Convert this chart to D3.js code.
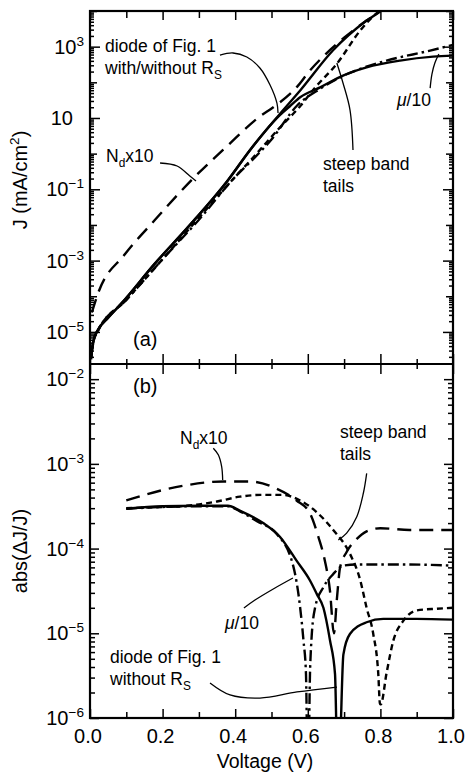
<!DOCTYPE html>
<html>
<head>
<meta charset="utf-8">
<script src="https://cdn.jsdelivr.net/npm/d3@7/dist/d3.min.js"></script>
<style>
  body { margin: 0; background: #fff; }
  text { font-family: "Liberation Sans", Arial, Helvetica, sans-serif; fill: #000; }
</style>
</head>
<body>
<div id="cont"></div>
<script>
// ---- data ----
// (a) J (mA/cm2) vs voltage (V)
var noRsV = [0.003, 0.006, 0.012, 0.022, 0.05, 0.086, 0.178, 0.27, 0.38, 0.44, 0.523, 0.579, 0.669, 0.762, 0.80, 0.83];
var noRsJ = [2.0e-6, 3.6e-6, 7.0e-6, 1.15e-5, 2.5e-5, 6.2e-5, 8.1e-4, 8.7e-3, 0.18, 1.23, 13, 59, 780, 5400, 1.0e4, 2.0e4];
var withRsV = [0.003, 0.006, 0.012, 0.022, 0.05, 0.086, 0.178, 0.27, 0.38, 0.44, 0.48, 0.523, 0.55, 0.579, 0.634, 0.697, 0.762, 0.854, 0.945, 1.0];
var withRsJ = [2.0e-6, 3.6e-6, 7.0e-6, 1.15e-5, 2.5e-5, 6.2e-5, 8.1e-4, 8.7e-3, 0.18, 1.23, 4.0, 12, 21, 38, 72, 155, 263, 407, 525, 562];
var ndV = [0.005, 0.022, 0.096, 0.178, 0.279, 0.377, 0.468, 0.505, 0.569, 0.606, 0.65, 0.7, 0.762, 0.80, 0.83];
var ndJ = [3.5e-5, 1.2e-4, 1.5e-3, 0.0135, 0.178, 1.6, 11, 20, 72, 214, 630, 1780, 5400, 1.0e4, 2.0e4];
var steepV = [0.003, 0.01, 0.022, 0.1, 0.2, 0.3, 0.4, 0.45, 0.523, 0.58, 0.62, 0.68, 0.744, 0.78, 0.81];
var steepJ = [1.7e-6, 5.5e-6, 1.05e-5, 7.9e-5, 1.1e-3, 0.0158, 0.224, 0.79, 5.4, 22, 71, 330, 2800, 7100, 1.26e4];
var muV = [0.003, 0.01, 0.022, 0.1, 0.2, 0.3, 0.4, 0.45, 0.5, 0.57, 0.634, 0.689, 0.75, 0.817, 0.937, 1.0];
var muJ = [1.9e-6, 6.0e-6, 1.1e-5, 7.9e-5, 1.1e-3, 0.014, 0.224, 0.71, 2.5, 22, 66, 138, 251, 407, 776, 1120];

// (b) abs(dJ/J) vs voltage (V)
var diodeBV = [0.1, 0.2, 0.3, 0.38, 0.413, 0.477, 0.523, 0.569, 0.606, 0.625, 0.643, 0.661, 0.675, 0.681, 0.687, 0.698, 0.716, 0.762, 0.808, 0.9, 1.0];
var diodeBR = [2.95e-4, 3.16e-4, 3.2e-4, 3.2e-4, 2.8e-4, 2.0e-4, 1.38e-4, 7.2e-5, 4.2e-5, 2.9e-5, 2.0e-5, 8.3e-6, 3.3e-6, 4e-7, 4e-7, 5.6e-6, 9.8e-6, 1.35e-5, 1.48e-5, 1.48e-5, 1.45e-5];
var muBV = [0.1, 0.2, 0.3, 0.38, 0.413, 0.46, 0.514, 0.56, 0.579, 0.588, 0.595, 0.599, 0.602, 0.606, 0.61, 0.62, 0.643, 0.67, 0.698, 0.735, 0.85, 1.0];
var muBR = [2.95e-4, 3.1e-4, 3.16e-4, 3.16e-4, 2.75e-4, 2.1e-4, 1.5e-4, 6.2e-5, 2.0e-5, 8.3e-6, 3.3e-6, 4e-7, 4e-7, 3.3e-6, 8.3e-6, 2.0e-5, 3.5e-5, 5.0e-5, 6.3e-5, 6.5e-5, 6.5e-5, 6.3e-5];
var ndBV = [0.1, 0.2, 0.266, 0.367, 0.44, 0.514, 0.569, 0.606, 0.629, 0.647, 0.661, 0.672, 0.68, 0.689, 0.707, 0.735, 0.762, 0.8, 0.88, 1.0];
var ndBR = [3.7e-4, 4.9e-4, 5.6e-4, 6.2e-4, 6.2e-4, 5.1e-4, 3.7e-4, 2.6e-4, 1.38e-4, 7.2e-5, 3.2e-5, 1.0e-5, 2.5e-5, 6.0e-5, 9.1e-5, 1.3e-4, 1.6e-4, 1.74e-4, 1.66e-4, 1.66e-4];
var steepBV = [0.1, 0.2, 0.266, 0.35, 0.413, 0.47, 0.53, 0.579, 0.624, 0.67, 0.716, 0.744, 0.762, 0.78, 0.794, 0.799, 0.801, 0.817, 0.836, 0.863, 0.9, 0.955, 1.0];
var steepBR = [3.0e-4, 3.1e-4, 3.2e-4, 3.6e-4, 4.1e-4, 4.3e-4, 4.3e-4, 3.7e-4, 2.7e-4, 1.66e-4, 8.7e-5, 4.3e-5, 2.0e-5, 1.0e-5, 3.4e-6, 1.45e-6, 1.45e-6, 3.4e-6, 8.3e-6, 1.4e-5, 1.86e-5, 1.95e-5, 2.0e-5];

// tick labels
var xTickVals = [0, 0.2, 0.4, 0.6, 0.8, 1.0];
var xTickLabels = ["0.0", "0.2", "0.4", "0.6", "0.8", "1.0"];
var xMinorVals = [0.1, 0.3, 0.5, 0.7, 0.9];
var topTickVals = [1e3, 10, 1e-1, 1e-3, 1e-5];
var topTickExp = ["3", "", "\u22121", "\u22123", "\u22125"];
var botTickVals = [1e-2, 1e-3, 1e-4, 1e-5, 1e-6];
var botTickExp = ["\u22122", "\u22123", "\u22124", "\u22125", "\u22126"];

// annotation leader lines (data units)
var leadDiodeTop = [[0.358, 583], [0.394, 664], [0.432, 513], [0.468, 252], [0.496, 84], [0.515, 26], [0.518, 13.8]];
var leadNdTop = [[0.193, 0.546], [0.240, 0.45], [0.275, 0.236], [0.292, 0.171]];
var leadSteepTop = [[0.7245, 1.26], [0.7163, 16.7], [0.697, 95.7], [0.680, 348]];
var leadMuTop = [[0.937, 69], [0.942, 171], [0.950, 348], [0.961, 622]];
var leadNdBot = [[0.3397, 1.53e-3], [0.3534, 1.28e-3], [0.3627, 9.27e-4], [0.3655, 6.46e-4]];
var leadSteepBot = [[0.7622, 7.74e-4], [0.753, 4.5e-4], [0.735, 2.38e-4], [0.707, 1.52e-4], [0.684, 1.26e-4]];
var leadMuBot = [[0.424, 1.99e-5], [0.4545, 2.47e-5], [0.5096, 3.43e-5], [0.559, 4.5e-5]];
var leadDiodeBot = [[0.3306, 2.59e-6], [0.3857, 1.87e-6], [0.4683, 1.72e-6], [0.5702, 2.03e-6], [0.6804, 2.32e-6]];

// ---- layout ----
var L = 90, R = 453, T = 11, M = 364, B = 718;

var svg = d3.select("#cont").append("svg").attr("width", 467).attr("height", 774);

var x = d3.scaleLinear().domain([0, 1]).range([L, R]);
var yTop = d3.scaleLog().domain([1.26e-6, 1e4]).range([M, T]);
var yBot = d3.scaleLog().domain([1e-6, 0.0151]).range([B, M]);

var defs = svg.append("defs");
defs.append("clipPath").attr("id", "clipTop").append("rect")
  .attr("x", L).attr("y", T).attr("width", R - L).attr("height", M - T);
defs.append("clipPath").attr("id", "clipBot").append("rect")
  .attr("x", L).attr("y", M).attr("width", R - L).attr("height", B - M);

function pairs(vs, ys) { return vs.map(function(v, i) { return [v, ys[i]]; }); }

function curve(g, ys, data, dash, w) {
  var ln = d3.line().x(function(d) { return x(d[0]); }).y(function(d) { return ys(d[1]); })
    .curve(d3.curveMonotoneX);
  g.append("path").attr("d", ln(data)).attr("fill", "none").attr("stroke", "#000")
    .attr("stroke-width", w || 2.4).attr("stroke-dasharray", dash || null);
}

function leader(ys, data) {
  var ln = d3.line().x(function(d) { return x(d[0]); }).y(function(d) { return ys(d[1]); })
    .curve(d3.curveCatmullRom);
  svg.append("path").attr("d", ln(data)).attr("fill", "none").attr("stroke", "#000").attr("stroke-width", 1.3);
}

var LONG = "14,8", SHORT = "6,4", DASHDOT = "11,4,2.5,4";

var gTop = svg.append("g").attr("clip-path", "url(#clipTop)");
curve(gTop, yTop, pairs(noRsV, noRsJ));
curve(gTop, yTop, pairs(withRsV, withRsJ));
curve(gTop, yTop, pairs(ndV, ndJ), LONG);
curve(gTop, yTop, pairs(steepV, steepJ), SHORT);
curve(gTop, yTop, pairs(muV, muJ), DASHDOT);

var gBot = svg.append("g").attr("clip-path", "url(#clipBot)");
curve(gBot, yBot, pairs(diodeBV, diodeBR));
curve(gBot, yBot, pairs(muBV, muBR), DASHDOT);
curve(gBot, yBot, pairs(ndBV, ndBR), LONG);
curve(gBot, yBot, pairs(steepBV, steepBR), SHORT);

// ---- ticks ----
function tickSet(axis, scale, vals, size, tx, ty) {
  var g = svg.append("g").attr("transform", "translate(" + tx + "," + ty + ")")
    .call(axis(scale).tickValues(vals).tickSize(size).tickFormat(""));
  g.select(".domain").remove();
  g.selectAll(".tick line").attr("stroke", "#000").attr("stroke-width", 1.5);
}

function decades(scale) {
  var d = scale.domain(), out = [];
  for (var e = Math.ceil(Math.log10(d[0]) - 1e-9); e <= Math.floor(Math.log10(d[1]) + 1e-9); e++) out.push(Math.pow(10, e));
  return out;
}
function minors(scale) {
  var d = scale.domain(), out = [];
  for (var e = Math.floor(Math.log10(d[0])); e < Math.ceil(Math.log10(d[1])); e++)
    for (var m = 2; m <= 9; m++) { var v = m * Math.pow(10, e); if (v >= d[0] && v <= d[1]) out.push(v); }
  return out;
}

var topDecOther = decades(yTop).filter(function(v) {
  return !topTickVals.some(function(t) { return Math.abs(Math.log10(t) - Math.log10(v)) < 1e-6; });
});
tickSet(d3.axisRight, yTop, topTickVals, 10, L, 0);
tickSet(d3.axisRight, yTop, topDecOther, 7, L, 0);
tickSet(d3.axisRight, yTop, minors(yTop), 4, L, 0);
tickSet(d3.axisLeft, yTop, topTickVals, 10, R, 0);
tickSet(d3.axisLeft, yTop, topDecOther, 7, R, 0);
tickSet(d3.axisLeft, yTop, minors(yTop), 4, R, 0);

tickSet(d3.axisRight, yBot, botTickVals, 9, L, 0);
tickSet(d3.axisRight, yBot, minors(yBot), 5, L, 0);
tickSet(d3.axisLeft, yBot, botTickVals, 9, R, 0);
tickSet(d3.axisLeft, yBot, minors(yBot), 5, R, 0);

tickSet(d3.axisBottom, x, xTickVals, 9, 0, T);
tickSet(d3.axisBottom, x, xMinorVals, 7, 0, T);
tickSet(d3.axisBottom, x, xTickVals, 10, 0, M);
tickSet(d3.axisBottom, x, xMinorVals, 5, 0, M);
tickSet(d3.axisTop, x, xTickVals, 10, 0, M);
tickSet(d3.axisTop, x, xMinorVals, 5, 0, M);
tickSet(d3.axisTop, x, xTickVals, 9, 0, B);
tickSet(d3.axisTop, x, xMinorVals, 6, 0, B);

// frame
svg.append("rect").attr("x", L).attr("y", T).attr("width", R - L).attr("height", B - T)
  .attr("fill", "none").attr("stroke", "#000").attr("stroke-width", 2.2);
svg.append("line").attr("x1", L).attr("x2", R).attr("y1", M).attr("y2", M)
  .attr("stroke", "#000").attr("stroke-width", 2.2);

// ---- text ----
function rich(t, parts, size) {
  var shift = 0;
  parts.forEach(function(p) {
    var s = t.append("tspan").text(p[0]);
    var want = p[1] === "sub" ? 5 : p[1] === "sup" ? -8 : 0;
    if (want !== shift) { s.attr("dy", want - shift); shift = want; }
    if (p[1] === "sub" || p[1] === "sup") s.attr("font-size", size * 0.68);
    if (p[1] === "it") s.attr("font-style", "italic");
  });
  return t;
}
function label(px, py, parts, size) {
  var t = svg.append("text").attr("x", px).attr("y", py).attr("font-size", size || 17.5);
  return rich(t, parts, size || 17.5);
}

// y tick labels
function yLabels(scale, vals, exps) {
  vals.forEach(function(v, i) {
    var t = svg.append("text").attr("y", scale(v) + 7).attr("font-size", 20).attr("text-anchor", "end");
    if (exps[i] === "") { t.attr("x", 73); rich(t, [["10", ""]], 20); }
    else { t.attr("x", 84); rich(t, [["10", ""], [exps[i], "sup"]], 20); }
  });
}
yLabels(yTop, topTickVals, topTickExp);
yLabels(yBot, botTickVals, botTickExp);

xTickVals.forEach(function(v, i) {
  svg.append("text").attr("x", x(v) - 2).attr("y", 743).attr("font-size", 20)
    .attr("text-anchor", "middle").text(xTickLabels[i]);
});

svg.append("text").attr("x", 265).attr("y", 768).attr("font-size", 19.5)
  .attr("text-anchor", "middle").text("Voltage (V)");
rich(svg.append("text").attr("transform", "translate(27,180) rotate(-90)").attr("font-size", 20)
  .attr("text-anchor", "middle"), [["J (mA/cm", ""], ["2", "sup"], [")", ""]], 20);
svg.append("text").attr("transform", "translate(27,551) rotate(-90)").attr("font-size", 20)
  .attr("text-anchor", "middle").text("abs(\u0394J/J)");

// panel (a) annotations
label(105, 52, [["diode of Fig. 1", ""]]);
label(105, 74, [["with/without R", ""], ["S", "sub"]]);
label(106, 162, [["N", ""], ["d", "sub"], ["x10", ""]]);
label(323, 170, [["steep band", ""]]);
label(323, 192, [["tails", ""]]);
label(397, 106, [["\u03bc", "it"], ["/10", ""]]);
label(133, 346, [["(a)", ""]], 20);
label(133, 393, [["(b)", ""]], 20);

// panel (b) annotations
label(180, 444, [["N", ""], ["d", "sub"], ["x10", ""]]);
label(340, 438, [["steep band", ""]]);
label(340, 460, [["tails", ""]]);
label(110, 663, [["diode of Fig. 1", ""]]);
label(110, 685, [["without R", ""], ["S", "sub"]]);
label(225, 629, [["\u03bc", "it"], ["/10", ""]]);

leader(yTop, leadDiodeTop);
leader(yTop, leadNdTop);
leader(yTop, leadSteepTop);
leader(yTop, leadMuTop);
leader(yBot, leadNdBot);
leader(yBot, leadSteepBot);
leader(yBot, leadMuBot);
leader(yBot, leadDiodeBot);
</script>
</body>
</html>
